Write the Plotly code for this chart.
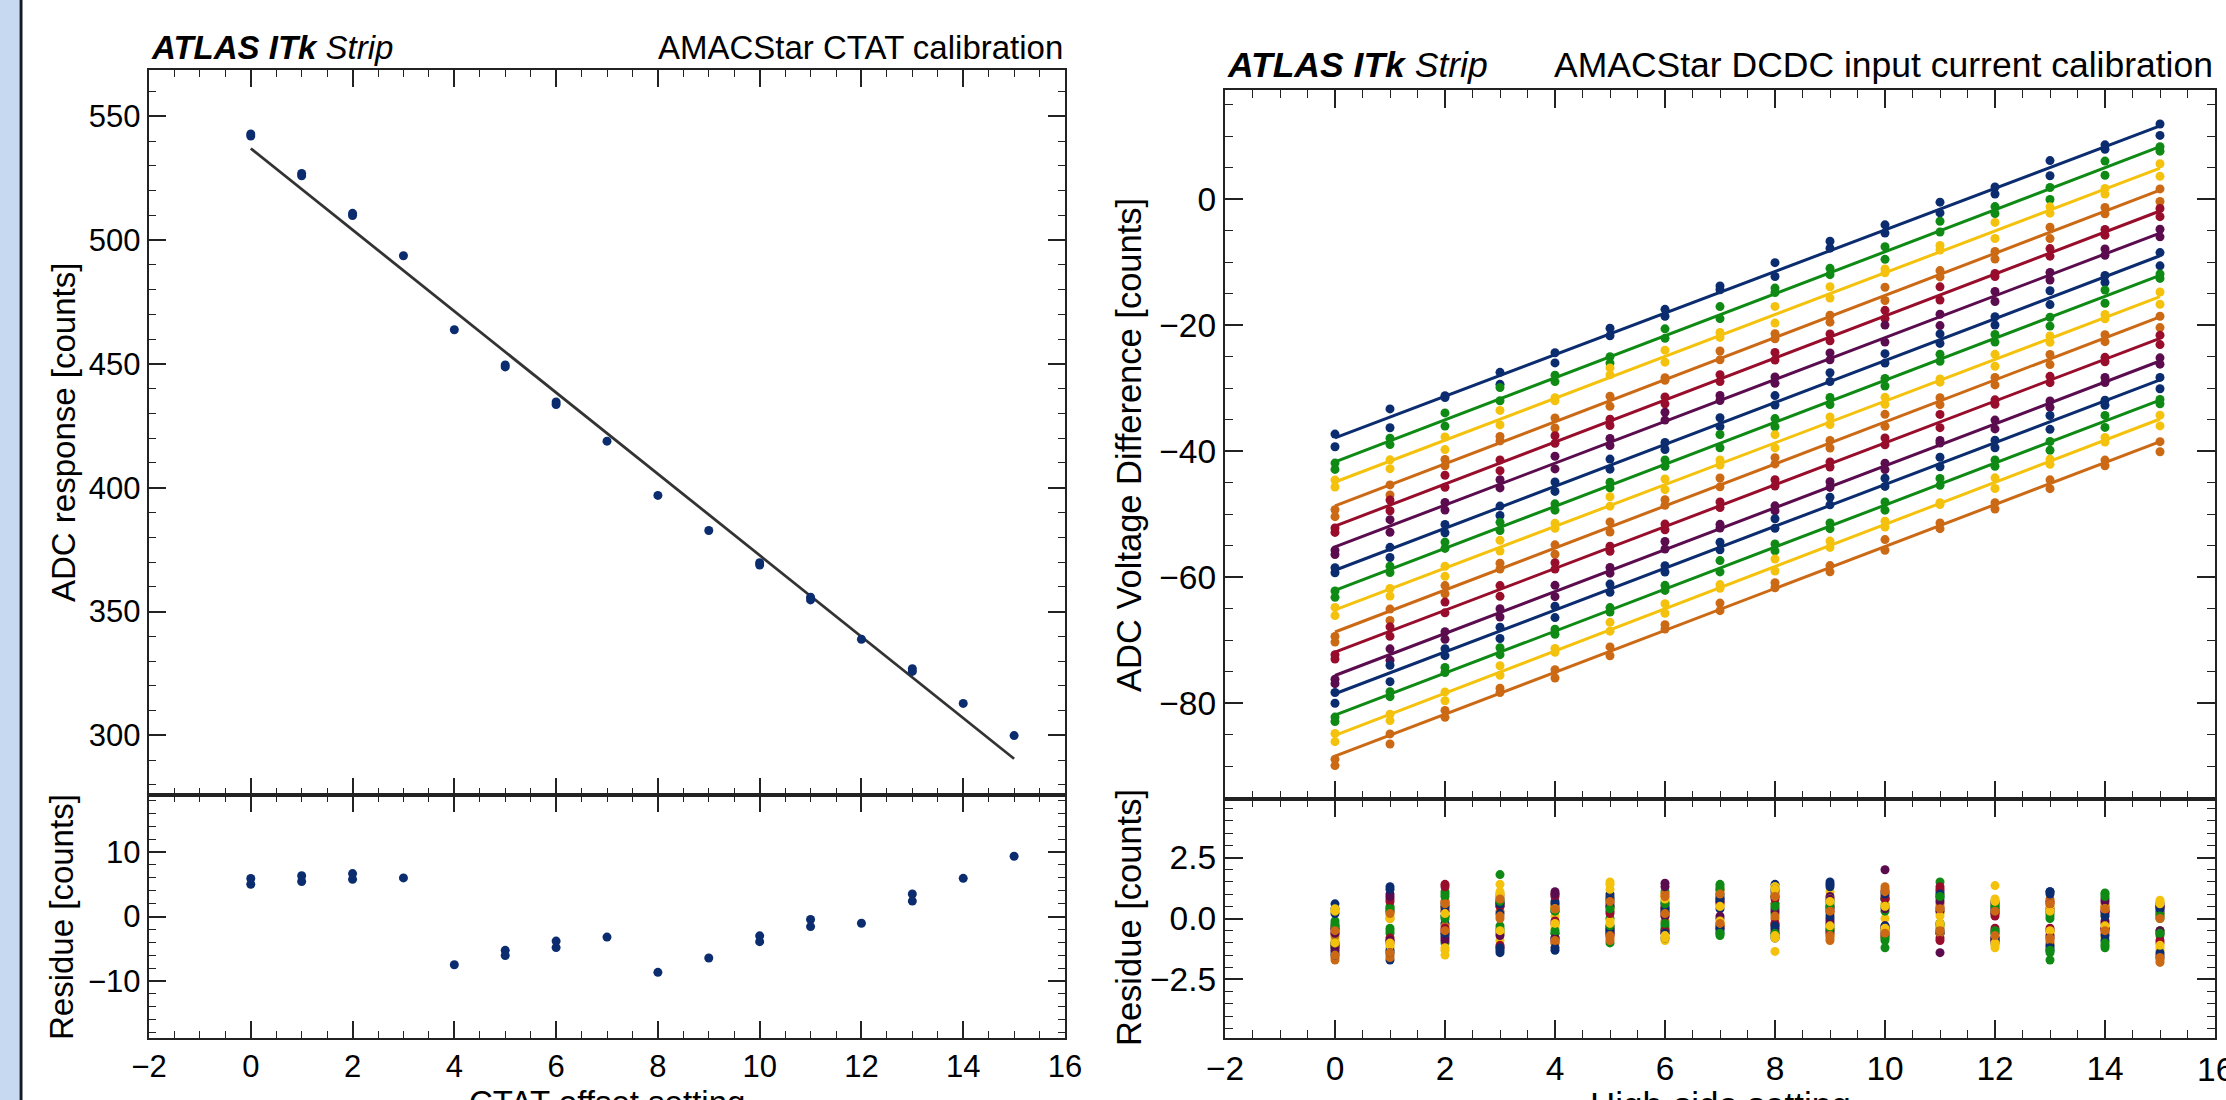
import numpy as np
import plotly.graph_objects as go

W, H = 2226, 1100
FONT = "Liberation Sans, Arial, Helvetica, sans-serif"

# ---------------- Data: left panel (CTAT calibration) ----------------
CTAT_X = [0, 0, 1, 1, 2, 2, 3, 4, 5, 5, 6, 6, 7, 8, 9, 10, 10, 11, 11, 12, 13, 13, 14, 15]
CTAT_ADC = [542.9, 542.0, 526.9, 526.0, 510.8, 509.9, 493.7, 463.8, 449.6, 448.8,
            434.6, 433.6, 418.8, 396.9, 382.7, 369.7, 368.8, 355.8, 354.7, 338.8,
            326.9, 325.8, 312.9, 299.9]
CTAT_FIT_INTERCEPT = 537.0
CTAT_FIT_SLOPE = -16.43

# ---------------- Data: right panel (DCDC input current) ----------------
HS_X = list(range(16))
LINE_START = [-37.9, -41.7, -44.9, -48.7, -51.9, -55.2, -58.9, -62.1,
              -65.2, -68.7, -71.9, -75.6, -78.5, -81.9, -85.1, -88.4]
LINE_END = [11.6, 8.3, 4.9, 1.4, -1.9, -5.4, -9.0, -12.1,
            -15.5, -18.7, -22.1, -25.7, -28.7, -31.9, -34.9, -38.5]
LINE_COLORS = ["#0b2c6e", "#0f8a14", "#f4c20d", "#cb6914", "#980d2b", "#5a0c4e"]

RES_A = [
    [0.6, 1.3, -0.2, 0.5, -1.3, 0.9, -0.5, 0.4, 1.4, 1.5, 0.8, -0.6, 0.2, 1.1, -0.4, -1.5],
    [-1.2, 0.4, 1.1, 1.8, -0.6, 0.0, 1.1, 1.3, 0.2, 0.7, -1.2, 1.5, 0.5, -1.7, 1.05, -0.7],
    [0.3, -1.2, -1.5, 1.4, 0.1, 1.5, 1.0, 0.5, -1.35, 1.1, 0.6, 0.3, 1.35, 0.5, 0.1, 0.7],
    [-1.7, -1.6, 0.7, 0.3, -1.0, -0.9, 0.3, 1.2, -0.2, 0.2, 1.3, 0.6, -0.9, 0.8, 0.6, -1.8],
    [-0.3, 0.8, 1.4, -1.2, 1.0, -0.7, 0.5, -0.4, 0.9, 0.5, -0.4, -0.8, 0.1, 0.7, 0.4, -0.9],
    [-0.5, 1.0, 0.4, -0.6, 1.1, 0.6, 1.45, 0.0, 0.4, 0.9, 2.0, -1.4, 0.7, -0.8, 0.8, 0.6],
    [0.4, -1.3, 0.6, -1.3, 0.7, 1.0, -0.8, 0.9, 1.1, 1.4, 1.1, 0.9, 0.3, 1.1, 0.2, -1.6],
    [-1.1, -0.5, 1.0, 0.8, 0.4, -0.4, 0.7, 1.4, -0.7, -0.5, 0.3, 0.8, -0.6, 0.0, 1.0, -0.5],
    [0.4, -1.1, -1.3, 1.1, -0.3, 1.4, 0.9, 0.6, 1.3, 0.8, -0.5, 0.2, 0.8, -0.6, -0.2, 0.75],
    [-1.6, -1.5, 0.7, 0.0, -1.0, -0.8, 0.1, 1.1, 0.0, 0.4, 1.2, 0.5, -0.8, 0.7, 0.5, -1.7],
    [-0.4, 0.7, 1.3, -1.1, 0.9, -0.6, 0.4, -0.3, 0.8, 0.3, -0.3, -0.9, 0.2, 0.6, 0.3, -1.0],
    [-0.6, 0.9, 0.3, -0.7, 1.0, 0.5, 1.3, 0.1, 0.3, 0.8, 0.4, 0.7, 0.6, -0.7, 0.7, 0.5],
    [0.2, 1.2, 0.5, 0.6, 0.6, 0.8, -0.6, 0.8, 1.2, 1.3, 1.0, 1.0, 0.4, 1.0, 0.1, 0.4],
    [-1.0, -0.4, 0.9, 0.7, 0.3, -0.3, 0.6, 1.2, -0.6, -0.4, 0.5, 0.9, -0.5, 0.1, 0.9, -0.6],
    [0.3, -1.0, -1.2, 1.0, -0.2, 1.2, 0.8, 0.5, 1.2, 0.7, -0.4, 0.1, 0.7, -0.5, -0.3, 0.6],
    [-1.5, -1.4, 0.6, 0.1, -0.9, -0.7, 0.2, 1.0, 0.1, 0.3, 1.1, 0.4, -0.7, 0.6, 0.4, -1.6],
]
RES_B = [
    [-1.4, -1.7, 0.1, -1.4, 0.3, -0.3, 0.6, 1.0, -0.8, 0.4, -0.5, 1.1, -0.9, -1.3, 0.3, 0.3],
    [-0.2, -0.6, -1.0, -0.3, 0.4, -1.0, -0.4, -0.6, 0.9, -0.3, 0.8, -0.2, -0.6, 0.2, -1.2, 0.0],
    [-0.8, 0.2, 0.5, -0.9, -0.4, 0.4, -0.9, -0.3, 1.3, -0.7, 0.0, 1.0, -1.2, -0.5, -0.8, -1.3],
    [-0.6, 0.0, -0.3, 1.0, 0.6, 0.7, -0.1, -0.2, 0.6, -0.9, -0.8, -0.4, 0.3, -1.0, -0.4, 0.2],
    [-1.0, -0.9, -0.5, 0.5, -0.2, 0.3, -0.6, 0.7, -0.3, -0.6, 0.9, 1.3, -0.4, -0.5, -0.5, 0.4],
    [-1.2, -1.0, -0.8, 0.7, -0.9, -0.5, 0.2, 0.8, -0.6, -0.2, -0.7, 0.4, -0.9, 0.4, -0.2, -0.6],
    [-0.4, 0.3, -0.7, 0.2, -0.8, -0.6, 0.3, -0.5, -0.4, 0.0, -0.4, -0.6, -1.0, -1.1, -0.9, 0.5],
    [-0.1, 0.5, 0.0, -0.5, -0.6, 0.5, -0.3, -0.7, 0.6, 0.6, -0.9, -0.3, 0.6, -1.4, -1.1, 0.2],
    [-0.9, 0.1, 0.3, -0.6, 0.5, -0.1, -0.8, -0.2, -0.8, -0.4, 0.6, -0.3, -1.1, 0.4, 0.5, -1.2],
    [-0.7, 0.3, -0.6, 0.9, 0.5, 0.8, 1.0, -0.3, 1.0, -0.8, -0.7, -0.6, 0.4, -0.9, -0.6, 0.1],
    [-1.1, -0.8, -0.4, 0.6, -0.1, 0.2, -0.5, 0.6, -0.2, -0.5, 0.8, 1.2, -0.5, -0.4, -0.4, 0.5],
    [-1.3, -0.9, -0.9, 0.6, -0.8, -0.4, 0.1, 0.7, -0.5, -0.1, -0.6, 0.3, -0.8, 0.3, -0.1, -0.5],
    [-1.5, -1.4, -0.6, -1.2, -1.2, -0.5, 0.4, -0.4, -0.3, 0.1, -0.3, -0.5, -0.8, -1.2, -0.7, -1.4],
    [-0.3, 0.4, 0.1, -0.4, -0.5, 0.4, -0.2, -0.6, 0.5, 0.5, -0.8, -0.2, 0.5, -1.3, -1.0, 0.1],
    [-1.0, 0.0, 0.2, -0.5, 0.4, -0.2, -0.7, -0.1, -0.7, -0.3, 0.5, -0.2, -1.0, 0.3, 0.4, -1.1],
    [-0.5, 0.2, -0.5, 0.8, 0.4, 0.7, 0.9, -0.2, 0.9, -0.7, -0.6, -0.5, 0.3, -0.8, -0.5, 0.0],
]

X_RANGE = [-2, 16]
MARKER_SIZE = 9


def px(v):
    return v / W


def py(v):
    return 1 - v / H


fig = go.Figure()

# ---- left panel ----
cx = np.array(CTAT_X, dtype=float)
cy = np.array(CTAT_ADC, dtype=float)
fit_x = np.array([cx.min(), cx.max()])
fig.add_trace(go.Scatter(x=fit_x, y=CTAT_FIT_INTERCEPT + CTAT_FIT_SLOPE * fit_x, mode="lines",
                         line=dict(color="#333333", width=2.8),
                         xaxis="x", yaxis="y", hoverinfo="skip"))
fig.add_trace(go.Scatter(x=cx, y=cy, mode="markers",
                         marker=dict(color="#0b2c6e", size=MARKER_SIZE),
                         xaxis="x", yaxis="y"))
fig.add_trace(go.Scatter(x=cx, y=cy - (CTAT_FIT_INTERCEPT + CTAT_FIT_SLOPE * cx), mode="markers",
                         marker=dict(color="#0b2c6e", size=MARKER_SIZE),
                         xaxis="x2", yaxis="y2"))

# ---- right panel ----
hx = np.array(HS_X, dtype=float)
for i in range(len(LINE_START)):
    col = LINE_COLORS[i % len(LINE_COLORS)]
    fitv = LINE_START[i] + (LINE_END[i] - LINE_START[i]) * (hx - hx[0]) / (hx[-1] - hx[0])
    ra = np.array(RES_A[i])
    rb = np.array(RES_B[i])
    fig.add_trace(go.Scatter(x=[hx[0], hx[-1]], y=[LINE_START[i], LINE_END[i]], mode="lines",
                             line=dict(color=col, width=3), xaxis="x3", yaxis="y3",
                             hoverinfo="skip"))
    fig.add_trace(go.Scatter(x=np.concatenate([hx, hx]),
                             y=np.concatenate([fitv + ra, fitv + rb]),
                             mode="markers", marker=dict(color=col, size=MARKER_SIZE),
                             xaxis="x3", yaxis="y3"))
for i in range(len(LINE_START)):
    col = LINE_COLORS[i % len(LINE_COLORS)]
    fig.add_trace(go.Scatter(x=np.concatenate([hx, hx]),
                             y=np.concatenate([RES_A[i], RES_B[i]]),
                             mode="markers", marker=dict(color=col, size=MARKER_SIZE),
                             xaxis="x4", yaxis="y4"))


def axis(domain, rng, dtick, minor, size, labels=True, fmt=None, anchor=None, tl=17, ml=7):
    d = dict(domain=domain, range=rng, dtick=dtick, tick0=0, automargin=False,
             showline=True, linecolor="#222222", linewidth=2.4, mirror="allticks",
             ticks="inside", ticklen=tl, tickwidth=1.5, tickcolor="#222222",
             showgrid=False, zeroline=False, showticklabels=labels,
             tickfont=dict(family=FONT, size=size, color="black"),
             minor=dict(ticks="inside", ticklen=ml, tickwidth=1.3, tickcolor="#222222",
                        dtick=minor, tick0=0, showgrid=False))
    if fmt:
        d["tickformat"] = fmt
    if anchor:
        d["anchor"] = anchor
    return d


LX = [px(149), px(1065)]
RX = [px(1225), px(2215)]
L_MAIN = [py(795), py(70)]
L_RES = [py(1038), py(795)]
R_MAIN = [py(799), py(90)]
R_RES = [py(1038), py(799)]

fig.update_layout(
    width=W, height=H,
    margin=dict(l=0, r=0, t=0, b=0, pad=0, autoexpand=False),
    paper_bgcolor="white", plot_bgcolor="white",
    showlegend=False,
    font=dict(family=FONT, color="black"),
    xaxis=axis(LX, X_RANGE, 2, 0.5, 31, labels=False, anchor="y"),
    yaxis=axis(L_MAIN, [275.9, 568.7], 50, 10, 31, anchor="x"),
    xaxis2=axis(LX, X_RANGE, 2, 0.5, 31, anchor="y2"),
    yaxis2=axis(L_RES, [-18.85, 18.85], 10, 2, 31, anchor="x2"),
    xaxis3=axis(RX, X_RANGE, 2, 0.5, 33.5, labels=False, anchor="y3", tl=18, ml=8),
    yaxis3=axis(R_MAIN, [-95.2, 17.3], 20, 5, 33.5, anchor="x3", tl=18, ml=8),
    xaxis4=axis(RX, X_RANGE, 2, 0.5, 33.5, anchor="y4", tl=18, ml=8),
    yaxis4=axis(R_RES, [-4.9, 4.9], 2.5, 0.5, 33.5, fmt=".1f", anchor="x4", tl=18, ml=8),
)

ann = []
# panel headers
ann.append(dict(x=px(149), y=py(68), xref="paper", yref="paper", xanchor="left", yanchor="bottom",
                text="<b><i>ATLAS ITk</i></b> <i>Strip</i>", showarrow=False,
                font=dict(family=FONT, size=33, color="black")))
ann.append(dict(x=px(1065), y=py(68), xref="paper", yref="paper", xanchor="right", yanchor="bottom",
                text="AMACStar CTAT calibration", showarrow=False,
                font=dict(family=FONT, size=33, color="black")))
ann.append(dict(x=px(1225), y=py(87), xref="paper", yref="paper", xanchor="left", yanchor="bottom",
                text="<b><i>ATLAS ITk</i></b> <i>Strip</i>", showarrow=False,
                font=dict(family=FONT, size=35.5, color="black")))
ann.append(dict(x=px(2215), y=py(87), xref="paper", yref="paper", xanchor="right", yanchor="bottom",
                text="AMACStar DCDC input current calibration", showarrow=False,
                font=dict(family=FONT, size=35.5, color="black")))
# y titles
ann.append(dict(x=px(64), y=py(433), xref="paper", yref="paper", xanchor="center", yanchor="middle",
                text="ADC response [counts]", textangle=-90, showarrow=False,
                font=dict(family=FONT, size=33, color="black")))
ann.append(dict(x=px(61), y=py(917), xref="paper", yref="paper", xanchor="center", yanchor="middle",
                text="Residue [counts]", textangle=-90, showarrow=False,
                font=dict(family=FONT, size=33, color="black")))
ann.append(dict(x=px(1129), y=py(445), xref="paper", yref="paper", xanchor="center", yanchor="middle",
                text="ADC Voltage Difference [counts]", textangle=-90, showarrow=False,
                font=dict(family=FONT, size=34.5, color="black")))
ann.append(dict(x=px(1129), y=py(918), xref="paper", yref="paper", xanchor="center", yanchor="middle",
                text="Residue [counts]", textangle=-90, showarrow=False,
                font=dict(family=FONT, size=34.5, color="black")))
# last x tick label of the right panel (runs past the page edge, as in the reference)
ann.append(dict(x=X_RANGE[1], xref="x4", y=py(1049), yref="paper", xanchor="center", yanchor="top",
                text=str(X_RANGE[1]), showarrow=False,
                font=dict(family=FONT, size=33.5, color="black")))
# x titles (cut by the page edge, as in the reference)
ann.append(dict(x=px(607), y=py(1102), xref="paper", yref="paper", xanchor="center", yanchor="middle",
                text="CTAT offset setting", showarrow=False,
                font=dict(family=FONT, size=33, color="black")))
ann.append(dict(x=px(1720), y=py(1104), xref="paper", yref="paper", xanchor="center", yanchor="middle",
                text="High-side setting", showarrow=False,
                font=dict(family=FONT, size=35, color="black")))
fig.update_layout(annotations=ann)

# slide decoration: light-blue band on the left edge
fig.add_shape(type="rect", xref="paper", yref="paper", x0=0, x1=px(19), y0=0, y1=1,
              fillcolor="#c6d9f1", line=dict(width=0), layer="below")
fig.add_shape(type="line", xref="paper", yref="paper", x0=px(21), x1=px(21), y0=0, y1=1,
              line=dict(color="#151a28", width=3))

fig.write_html("out.html", config={"displayModeBar": False},
               post_script="document.body.style.margin='0px';")
